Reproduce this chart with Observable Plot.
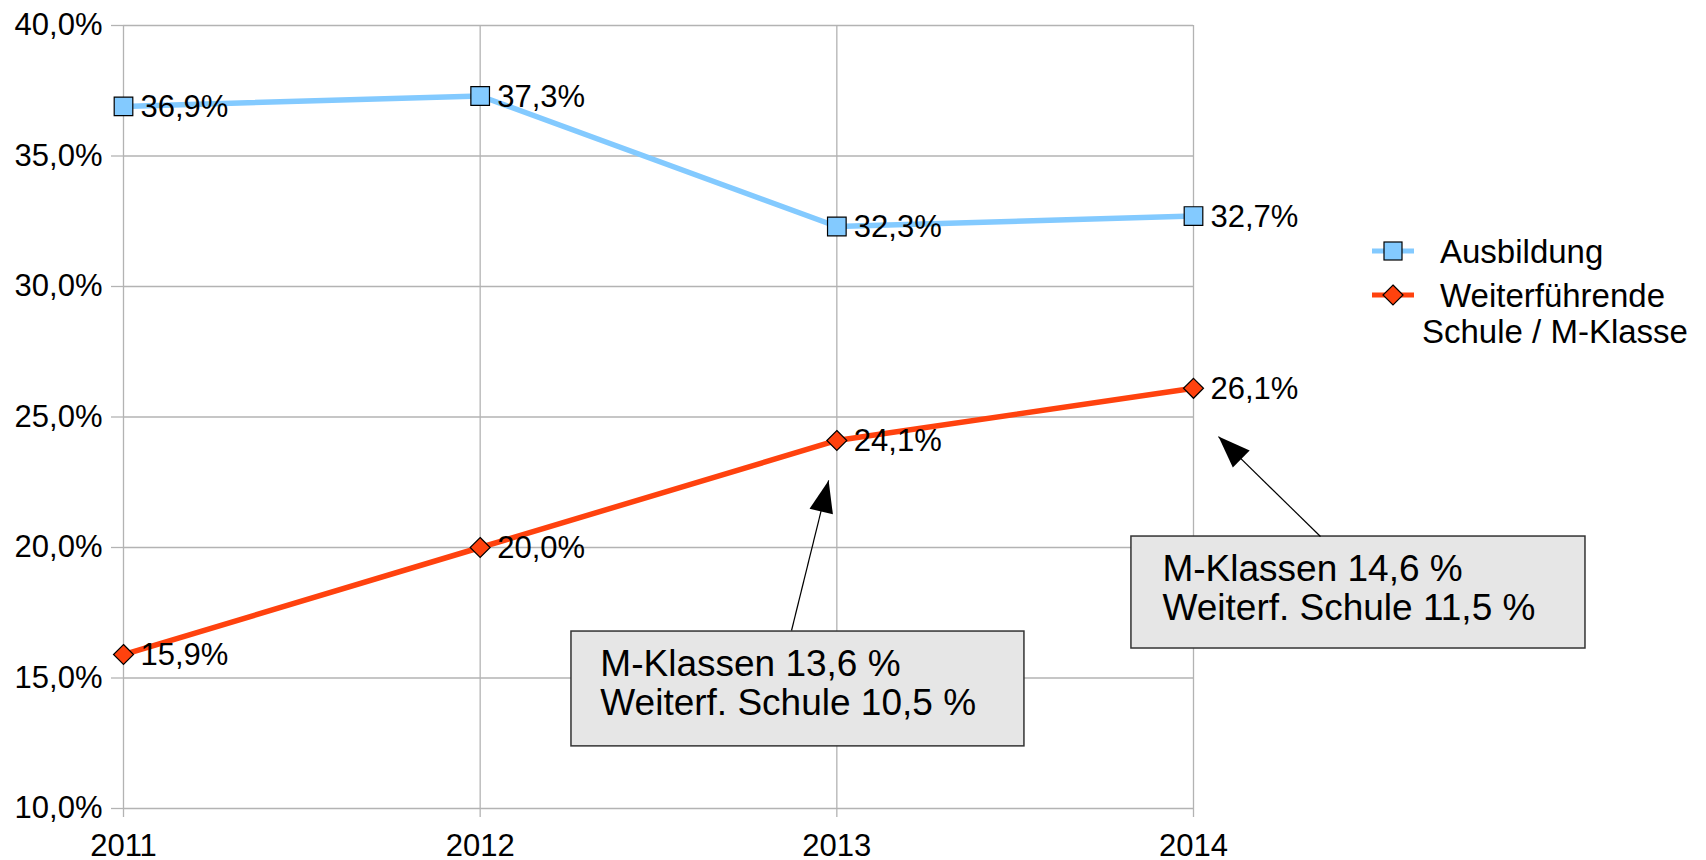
<!DOCTYPE html>
<html>
<head>
<meta charset="utf-8">
<script src="https://cdn.jsdelivr.net/npm/d3@7"></script>
<script src="https://cdn.jsdelivr.net/npm/@observablehq/plot@0.6"></script>
<style>
  html, body { margin: 0; padding: 0; background: #fff; }
  #wrap { position: relative; width: 1706px; height: 860px; font-family: "Liberation Sans", Arial, sans-serif; }
  #legend { position: absolute; left: 0; top: 0; pointer-events: none; }
</style>
</head>
<body>
<div id="wrap"></div>
<script>
// ---- data ----
const years = [2011, 2012, 2013, 2014];
const ausbildung = [36.9, 37.3, 32.3, 32.7];
const weiterfuehrende = [15.9, 20.0, 24.1, 26.1];
const seriesNames = ["Ausbildung", "Weiterführende\nSchule / M-Klasse"];
const yTicks = [10, 15, 20, 25, 30, 35, 40];
const note2013 = "M-Klassen 13,6 %\nWeiterf. Schule 10,5 %";
const note2014 = "M-Klassen 14,6 %\nWeiterf. Schule 11,5 %";

const blue = "#83caff", orange = "#ff420e";
const fmt = v => v.toFixed(1).replace(".", ",") + "%";
const font = "Liberation Sans, Arial, sans-serif";

const rowsA = years.map((y, i) => ({year: y, value: ausbildung[i]}));
const rowsW = years.map((y, i) => ({year: y, value: weiterfuehrende[i]}));

// filled narrow arrowhead, tip at origin
const headSymbol = {draw(ctx) { ctx.moveTo(0, 0); ctx.lineTo(12, 32); ctx.lineTo(-12, 32); ctx.closePath(); }};

const notes = [
  {x1: 2012.256, x2: 2013.526, y1: 12.38, y2: 16.78, tx: 2012.337, ty: 14.81, text: note2013,
   ax: 2012.873, ay: 16.82, hx: 2012.977, hy: 22.57, rot: 13.4},
  {x1: 2013.826, x2: 2015.099, y1: 16.13, y2: 20.42, tx: 2013.913, ty: 18.45, text: note2014,
   ax: 2014.356, ay: 20.42, hx: 2014.070, hy: 24.25, rot: -45.4}
];

const chart = Plot.plot({
  width: 1706,
  height: 860,
  marginLeft: 123,
  marginRight: 513,
  marginTop: 25,
  marginBottom: 52,
  style: {fontFamily: font, fontSize: "31px", color: "#000", background: "#fff", overflow: "visible"},
  x: {type: "linear", domain: [2011, 2014]},
  y: {domain: [10, 40]},
  marks: [
    Plot.gridY(yTicks, {stroke: "#b3b3b3", strokeOpacity: 1, strokeWidth: 1.3}),
    Plot.gridX(years, {stroke: "#b3b3b3", strokeOpacity: 1, strokeWidth: 1.3}),
    Plot.axisY(yTicks, {tickSize: 12, tickPadding: 9, stroke: "#b3b3b3", strokeWidth: 1.3, fill: "#000",
      fontSize: 31, tickFormat: fmt, label: null}),
    Plot.axisX(years, {tickSize: 9, tickPadding: 16, stroke: "#b3b3b3", strokeWidth: 1.3, fill: "#000",
      fontSize: 31, tickFormat: d => String(d), label: null}),
    Plot.line(rowsA, {x: "year", y: "value", stroke: blue, strokeWidth: 5.5}),
    Plot.line(rowsW, {x: "year", y: "value", stroke: orange, strokeWidth: 5.5}),
    Plot.dot(rowsA, {x: "year", y: "value", symbol: "square", r: 10.5, fill: blue, stroke: "#000", strokeWidth: 1.2}),
    Plot.dot(rowsW, {x: "year", y: "value", symbol: "diamond2", r: 9, fill: orange, stroke: "#000", strokeWidth: 1.2}),
    Plot.text(rowsA, {x: "year", y: "value", text: d => fmt(d.value), dx: 17, dy: 1, textAnchor: "start", fontSize: 31, fill: "#000"}),
    Plot.text(rowsW, {x: "year", y: "value", text: d => fmt(d.value), dx: 17, dy: 1, textAnchor: "start", fontSize: 31, fill: "#000"}),
    Plot.rect(notes, {x1: "x1", x2: "x2", y1: "y1", y2: "y2", fill: "#e6e6e6", stroke: "#333", strokeWidth: 1.5}),
    Plot.text(notes, {x: "tx", y: "ty", text: "text", textAnchor: "start", lineAnchor: "middle", lineHeight: 1.06, fontSize: 37, fill: "#000"}),
    Plot.link(notes, {x1: "ax", y1: "ay", x2: "hx", y2: "hy", stroke: "#000", strokeWidth: 1.2}),
    Plot.dot(notes, {x: "hx", y: "hy", symbol: headSymbol, r: 5, fill: "#000", stroke: "none", rotate: "rot"})
  ]
});

const wrap = document.getElementById("wrap");
wrap.appendChild(chart);

// ---- legend (overlay) ----
const ns = "http://www.w3.org/2000/svg";
const leg = d3.select(wrap).append("svg").attr("id", "legend").attr("width", 1706).attr("height", 860)
  .style("font-family", font);
const items = [
  {color: blue, sym: "square", cy: 251},
  {color: orange, sym: "diamond", cy: 295}
];
items.forEach(it => {
  leg.append("line").attr("x1", 1372).attr("x2", 1414).attr("y1", it.cy).attr("y2", it.cy)
    .attr("stroke", it.color).attr("stroke-width", 5);
  if (it.sym === "square") {
    leg.append("rect").attr("x", 1384).attr("y", it.cy - 9).attr("width", 18).attr("height", 18)
      .attr("fill", it.color).attr("stroke", "#000").attr("stroke-width", 1.2);
  } else {
    leg.append("path").attr("d", `M1393,${it.cy - 10}L1403,${it.cy}L1393,${it.cy + 10}L1383,${it.cy}Z`)
      .attr("fill", it.color).attr("stroke", "#000").attr("stroke-width", 1.2);
  }
});
leg.append("text").attr("x", 1440).attr("y", 263).attr("font-size", 33).text(seriesNames[0]);
const lines2 = seriesNames[1].split("\n");
leg.append("text").attr("x", 1440).attr("y", 307).attr("font-size", 33).text(lines2[0]);
leg.append("text").attr("x", 1422).attr("y", 343).attr("font-size", 33).text(lines2[1]);
</script>
</body>
</html>
